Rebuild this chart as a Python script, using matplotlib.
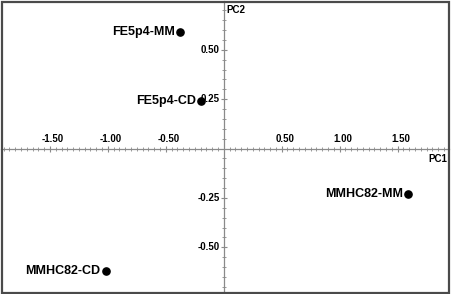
import matplotlib
matplotlib.use("Agg")
import matplotlib.pyplot as plt
import matplotlib.transforms as mtransforms
from matplotlib.patches import Rectangle
import numpy as np

plt.rcParams['font.family'] = ['Liberation Sans', 'DejaVu Sans']

# Data
labels = ["FE5p4-MM", "FE5p4-CD", "MMHC82-MM", "MMHC82-CD"]
pc1 = [-0.375, -0.194, 1.593, -1.02]
pc2 = [0.593, 0.24, -0.229, -0.618]
xticks = [-1.5, -1.0, -0.5, 0.5, 1.0, 1.5]
xticklabels = ["-1.50", "-1.00", "-0.50", "0.50", "1.00", "1.50"]
yticks = [-0.5, -0.25, 0.25, 0.5]
yticklabels = ["-0.50", "-0.25", "0.25", "0.50"]

fig = plt.figure(figsize=(4.51, 2.94), dpi=100)
ax = fig.add_axes([1.5 / 451, 1.5 / 294, 447.5 / 451, 291 / 294])
ax.set_xlim(-1.918, 1.944)
ax.set_ylim(-0.729, 0.745)

axcol = "#8a8a8a"
for s in ["top", "right"]:
    ax.spines[s].set_visible(False)
for s in ["left", "bottom"]:
    ax.spines[s].set_position(("data", 0))
    ax.spines[s].set_color(axcol)
    ax.spines[s].set_linewidth(0.9)

ax.set_xticks(xticks)
ax.set_yticks(yticks)
ax.set_xticks(np.arange(-1.9, 1.95, 0.05), minor=True)
ax.set_yticks(np.arange(-0.70, 0.75, 0.05), minor=True)
ax.tick_params(which="major", direction="inout", length=4, width=0.8, color=axcol,
               labelbottom=False, labelleft=False)
ax.tick_params(which="minor", direction="inout", length=2.5, width=0.6, color=axcol)

# border
ax.add_patch(Rectangle((0, 0), 1, 1, transform=ax.transAxes, fill=False,
                       edgecolor="#4a4a4a", linewidth=1.6, clip_on=False, zorder=5))

# tick labels
xoff = mtransforms.offset_copy(ax.transData, fig=fig, x=3, y=10, units="dots")
for v, t in zip(xticks, xticklabels):
    ax.text(v, 0, t, transform=xoff, ha="center", va="center",
            fontsize=7, fontweight="bold")
yoff = mtransforms.offset_copy(ax.transData, fig=fig, x=-4, y=0, units="dots")
for v, t in zip(yticks, yticklabels):
    ax.text(0, v, t, transform=yoff, ha="right", va="center",
            fontsize=7, fontweight="bold")

# axis titles
ax.text(0.997, 0.0, "PC1", transform=mtransforms.blended_transform_factory(ax.transAxes, ax.transData) +
        mtransforms.ScaledTranslation(0, -10 / 100, fig.dpi_scale_trans),
        ha="right", va="center", fontsize=7, fontweight="bold")
ax.text(0, 0.987, "PC2", transform=mtransforms.blended_transform_factory(ax.transData, ax.transAxes) +
        mtransforms.ScaledTranslation(3 / 100, 0, fig.dpi_scale_trans),
        ha="left", va="top", fontsize=7, fontweight="bold")

# points
ax.plot(pc1, pc2, "o", color="black", markersize=5.2, linestyle="none", zorder=6)
for x, y, t in zip(pc1, pc2, labels):
    ax.annotate(t, (x, y), xytext=(-3.5, 0), textcoords="offset points",
                ha="right", va="center", fontsize=9, fontweight="bold")

fig.savefig("out.png", dpi=100)
